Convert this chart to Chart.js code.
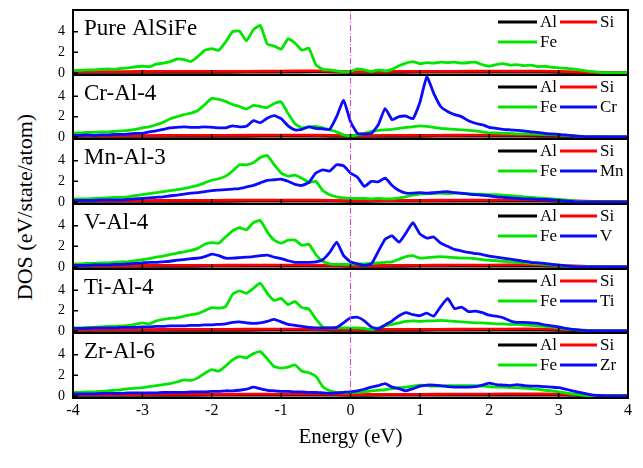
<!DOCTYPE html>
<html>
<head>
<meta charset="utf-8">
<script src="https://cdn.jsdelivr.net/npm/chart.js@4.4.0/dist/chart.umd.min.js"></script>
<style>
  body { margin: 0; background: #fff; }
  #wrap { position: relative; width: 643px; height: 468px; overflow: hidden; }
  #wrap canvas { position: absolute; left: 0; }
  #ylab { position: absolute; left: -125px; top: 195px; width: 300px; text-align: center;
          font: 22px "Liberation Serif"; line-height: 24px; transform: rotate(-90deg); color: #000; }
</style>
</head>
<body>
<div id="wrap">
  <div id="ylab">DOS (eV/state/atom)</div>
</div>
<script>
// energy grid (eV)
const energies = [
  -4.0,-3.9,-3.8,-3.7,-3.6,-3.5,-3.4,-3.3,-3.2,-3.1,
  -3.0,-2.9,-2.8,-2.7,-2.6,-2.5,-2.4,-2.3,-2.2,-2.1,
  -2.0,-1.9,-1.8,-1.7,-1.6,-1.5,-1.4,-1.3,-1.2,-1.1,
  -1.0,-0.9,-0.8,-0.7,-0.6,-0.5,-0.4,-0.3,-0.2,-0.1,
  0.0,0.1,0.2,0.3,0.4,0.5,0.6,0.7,0.8,0.9,
  1.0,1.1,1.2,1.3,1.4,1.5,1.6,1.7,1.8,1.9,
  2.0,2.1,2.2,2.3,2.4,2.5,2.6,2.7,2.8,2.9,
  3.0,3.1,3.2,3.3,3.4,3.5,3.6,3.7,3.8,3.9,
  4.0
];
const energiesCoarse = [-4,-3.5,-3,-2.5,-2,-1.5,-1,-0.5,0,0.5,1,1.5,2,2.5,3,3.5,4];

const xTicks = [-4,-3,-2,-1,0,1,2,3,4];
const yTicks = [0,2,4];
const fermiLevel = 0;

const panelNames = ['Pure AlSiFe','Cr-Al-4','Mn-Al-3','V-Al-4','Ti-Al-4','Zr-Al-6'];
const dopantNames = [null,'Cr','Mn','V','Ti','Zr'];

// Fe partial DOS
const fePure = [
  0.25,0.25,0.3,0.3,0.35,0.4,0.35,0.45,0.5,0.6,
  0.65,0.6,0.85,0.95,1.1,1.35,1.3,1.1,1.6,2.2,
  2.35,2.2,3.0,4.0,4.05,3.1,4.2,4.6,2.8,2.6,
  2.3,3.3,2.9,2.2,2.4,0.8,0.35,0.3,0.2,0.1,
  0.15,0.4,0.3,0.15,0.3,0.2,0.35,0.7,0.95,1.1,
  0.9,1.0,0.95,1.05,1.0,1.05,0.95,1.0,1.05,0.8,
  0.65,0.8,0.9,0.75,0.8,0.7,0.75,0.6,0.65,0.55,
  0.5,0.45,0.4,0.3,0.2,0.12,0.05,0.02,0,0,
  0
];
const feCr = [
  0.4,0.4,0.45,0.45,0.5,0.5,0.55,0.6,0.65,0.75,
  0.9,1.0,1.2,1.45,1.8,2.0,2.2,2.35,2.6,3.2,
  3.8,3.7,3.5,3.2,3.0,2.75,3.1,3.0,2.9,3.3,
  3.45,2.3,1.3,0.9,1.0,1.05,0.9,0.7,0.5,0.2,
  0.1,0.2,0.35,0.55,0.65,0.7,0.75,0.85,0.95,1.0,
  1.1,1.05,0.95,0.85,0.8,0.75,0.7,0.65,0.6,0.5,
  0.4,0.4,0.35,0.35,0.3,0.3,0.3,0.28,0.25,0.25,
  0.22,0.15,0.1,0.05,0.02,0,0,0,0,0,
  0
];
const feMn = [
  0.3,0.3,0.3,0.35,0.35,0.4,0.45,0.45,0.5,0.6,
  0.7,0.8,0.9,1.0,1.1,1.2,1.3,1.45,1.6,1.85,
  2.1,2.25,2.5,3.0,3.6,3.6,3.8,4.3,4.5,3.6,
  2.8,2.5,2.6,2.3,1.9,2.0,1.1,0.7,0.5,0.4,
  0.35,0.35,0.35,0.3,0.35,0.3,0.3,0.4,0.5,0.65,
  0.75,0.8,0.8,0.85,0.8,0.85,0.8,0.8,0.75,0.75,
  0.7,0.7,0.65,0.6,0.55,0.5,0.45,0.4,0.35,0.3,
  0.25,0.2,0.12,0.06,0.02,0,0,0,0,0,
  0
];
const feV = [
  0.3,0.3,0.35,0.35,0.4,0.4,0.45,0.5,0.5,0.6,
  0.7,0.8,0.95,1.05,1.2,1.35,1.45,1.6,1.8,2.2,
  2.35,2.3,2.9,3.5,3.8,3.6,4.3,4.5,3.4,2.6,
  2.3,2.6,2.6,2.1,2.2,1.2,0.55,0.3,0.25,0.25,
  0.25,0.3,0.3,0.35,0.4,0.45,0.5,0.75,1.0,1.1,
  0.85,0.9,0.95,1.0,0.95,0.9,0.85,0.85,0.8,0.7,
  0.65,0.6,0.55,0.5,0.45,0.4,0.35,0.3,0.25,0.2,
  0.15,0.08,0.03,0,0,0,0,0,0,0,
  0
];
const feTi = [
  0.3,0.3,0.35,0.35,0.4,0.45,0.45,0.5,0.55,0.65,
  0.8,0.7,1.0,1.15,1.25,1.3,1.45,1.6,1.7,2.0,
  2.3,2.25,2.4,3.6,3.95,3.7,4.2,4.7,3.7,3.0,
  3.2,2.6,2.9,2.3,2.15,1.2,0.4,0.3,0.3,0.3,
  0.3,0.3,0.25,0.15,0.3,0.5,0.65,0.8,0.95,1.0,
  0.95,1.0,1.0,1.05,1.0,0.95,0.9,0.85,0.8,0.8,
  0.75,0.7,0.7,0.65,0.65,0.6,0.55,0.5,0.45,0.4,
  0.3,0.2,0.15,0.08,0.03,0,0,0,0,0,
  0
];
const feZr = [
  0.35,0.35,0.4,0.4,0.45,0.5,0.55,0.6,0.7,0.75,
  0.8,0.9,1.0,1.1,1.2,1.35,1.55,1.5,1.75,2.2,
  2.55,2.4,2.9,3.5,3.8,3.7,4.1,4.3,3.6,2.85,
  2.7,2.8,3.0,2.4,2.25,1.9,0.9,0.5,0.35,0.3,
  0.3,0.35,0.4,0.5,0.55,0.6,0.7,0.8,0.85,0.95,
  1.05,1.0,0.95,0.95,1.0,1.0,1.0,1.0,1.0,0.95,
  0.9,0.85,0.85,0.8,0.8,0.75,0.7,0.65,0.55,0.5,
  0.4,0.3,0.2,0.1,0.03,0,0,0,0,0,
  0
];

// dopant partial DOS
const crDos = [
  0.15,0.15,0.2,0.15,0.2,0.2,0.25,0.25,0.3,0.35,
  0.35,0.5,0.6,0.75,0.9,0.95,1.0,0.95,0.95,1.0,
  0.95,0.9,0.9,1.1,1.0,1.05,1.6,1.4,1.85,2.1,
  1.8,1.1,0.7,0.75,1.0,0.85,0.8,0.75,2.0,3.6,
  1.5,0.35,0.3,0.35,1.2,2.8,1.7,2.0,2.05,1.8,
  3.4,5.9,4.3,3.0,2.5,2.2,2.0,1.6,1.35,1.2,
  0.95,0.85,0.75,0.7,0.65,0.6,0.5,0.45,0.35,0.3,
  0.25,0.2,0.12,0.05,0,0,0,0,0,0,
  0
];
const mnDos = [
  0.15,0.15,0.15,0.15,0.2,0.2,0.2,0.2,0.25,0.3,
  0.35,0.4,0.45,0.5,0.6,0.65,0.75,0.85,0.9,1.0,
  1.1,1.15,1.2,1.25,1.3,1.45,1.6,1.85,2.1,2.15,
  2.2,2.0,1.7,1.6,1.9,2.8,3.1,3.0,3.6,3.5,
  2.8,2.4,1.5,2.0,1.95,2.3,1.6,1.1,0.85,0.85,
  0.9,0.85,0.9,0.95,1.0,0.9,0.85,0.75,0.7,0.65,
  0.6,0.5,0.45,0.4,0.35,0.3,0.3,0.25,0.25,0.2,
  0.15,0.1,0.05,0,0,0,0,0,0,0,
  0
];
const vDos = [
  0.15,0.15,0.15,0.2,0.2,0.2,0.25,0.25,0.3,0.35,
  0.4,0.45,0.45,0.5,0.55,0.65,0.7,0.8,0.85,1.0,
  1.25,1.1,0.85,0.85,0.9,0.95,1.0,1.1,1.15,0.95,
  0.8,0.6,0.45,0.45,0.45,0.5,0.7,1.4,2.4,1.1,
  0.5,0.3,0.15,0.3,1.5,2.7,3.0,2.4,3.3,4.3,
  3.2,2.8,2.9,2.3,2.0,1.7,1.55,1.4,1.3,1.2,
  1.05,0.95,0.85,0.75,0.65,0.55,0.45,0.4,0.35,0.25,
  0.2,0.1,0.05,0,0,0,0,0,0,0,
  0
];
const tiDos = [
  0.25,0.25,0.25,0.3,0.3,0.3,0.3,0.35,0.35,0.35,
  0.4,0.4,0.45,0.45,0.5,0.5,0.5,0.55,0.55,0.6,
  0.6,0.65,0.7,0.85,0.9,0.8,0.75,0.8,0.95,1.15,
  0.9,0.65,0.55,0.45,0.35,0.3,0.3,0.3,0.35,0.8,
  1.3,1.35,1.0,0.4,0.2,0.6,1.0,1.5,1.8,1.6,
  1.5,1.75,1.45,2.4,3.2,2.2,2.35,1.9,1.95,1.8,
  1.55,1.45,1.3,1.0,0.85,0.85,0.8,0.75,0.6,0.5,
  0.4,0.25,0.15,0.08,0.03,0,0,0,0,0,
  0
];
const zrDos = [
  0.2,0.2,0.2,0.2,0.25,0.25,0.25,0.25,0.3,0.3,
  0.3,0.3,0.3,0.35,0.35,0.35,0.35,0.4,0.4,0.4,
  0.45,0.45,0.5,0.5,0.55,0.65,0.85,0.7,0.55,0.5,
  0.45,0.45,0.4,0.4,0.35,0.35,0.3,0.25,0.3,0.35,
  0.4,0.5,0.65,0.85,1.0,1.2,0.85,0.7,0.5,0.7,
  0.95,1.05,1.05,1.0,0.9,0.85,0.85,0.85,0.9,1.05,
  1.25,1.1,1.05,1.0,1.1,1.0,0.95,0.95,0.9,0.85,
  0.8,0.65,0.5,0.35,0.2,0.08,0.02,0,0,0,
  0
];

// Al and Si partial DOS (coarse grid, small)
const alPure = [0.05,0.05,0.05,0.06,0.06,0.07,0.08,0.1,0.06,0.06,0.07,0.07,0.08,0.08,0.06,0.02,0];
const siPure = [0.12,0.12,0.14,0.15,0.15,0.16,0.18,0.2,0.12,0.14,0.15,0.16,0.18,0.18,0.15,0.03,0];
const alCr = [0.05,0.05,0.06,0.06,0.07,0.07,0.08,0.08,0.06,0.07,0.07,0.08,0.08,0.08,0.06,0.02,0];
const siCr = [0.12,0.13,0.14,0.15,0.16,0.17,0.18,0.17,0.13,0.15,0.16,0.17,0.18,0.19,0.15,0.03,0];
const alMn = [0.05,0.05,0.06,0.06,0.06,0.07,0.08,0.08,0.06,0.07,0.07,0.08,0.08,0.08,0.06,0.02,0];
const siMn = [0.12,0.12,0.13,0.15,0.16,0.17,0.18,0.18,0.13,0.14,0.16,0.17,0.18,0.2,0.16,0.04,0];
const alV = [0.05,0.05,0.05,0.06,0.07,0.07,0.08,0.08,0.06,0.06,0.07,0.08,0.08,0.08,0.06,0.02,0];
const siV = [0.12,0.12,0.14,0.15,0.16,0.17,0.18,0.18,0.12,0.14,0.16,0.17,0.18,0.2,0.16,0.03,0];
const alTi = [0.05,0.05,0.06,0.06,0.07,0.07,0.08,0.08,0.06,0.07,0.07,0.08,0.08,0.08,0.07,0.02,0];
const siTi = [0.12,0.13,0.14,0.15,0.16,0.17,0.18,0.17,0.13,0.15,0.16,0.17,0.18,0.2,0.17,0.04,0];
const alZr = [0.05,0.05,0.06,0.06,0.07,0.07,0.08,0.08,0.06,0.07,0.07,0.08,0.08,0.08,0.07,0.02,0];
const siZr = [0.12,0.13,0.14,0.15,0.16,0.17,0.18,0.18,0.13,0.15,0.16,0.17,0.18,0.2,0.17,0.04,0];

const feSeries = [fePure, feCr, feMn, feV, feTi, feZr];
const dopSeries = [null, crDos, mnDos, vDos, tiDos, zrDos];
const alSeries = [alPure, alCr, alMn, alV, alTi, alZr];
const siSeries = [siPure, siCr, siMn, siV, siTi, siZr];

// layout
const plotLeft = 73, plotRight = 628, pad = 6;
const panelTops = [10, 75, 139, 204, 269, 333];
const panelBottom = 398;
const yMin = -0.2, yMax = 6.1;
const font = 'Liberation Serif';

function pts(xs, ys) {
  return xs.map((x, k) => ({ x: x, y: ys[k] }));
}

function makeDecor(title) {
  return {
    id: 'panelDecor',
    afterDraw(chart) {
      const { ctx, chartArea: a, scales } = chart;
      ctx.save();
      ctx.strokeStyle = '#000';
      ctx.lineWidth = 1.5;
      ctx.beginPath();
      xTicks.forEach(v => {
        if (v > -4 && v < 4) {
          const px = scales.x.getPixelForValue(v);
          ctx.moveTo(px, a.bottom);
          ctx.lineTo(px, a.bottom - 5);
        }
      });
      yTicks.forEach(v => {
        const py = scales.y.getPixelForValue(v);
        ctx.moveTo(a.left, py);
        ctx.lineTo(a.left + 5, py);
      });
      ctx.stroke();
      ctx.lineWidth = 2;
      ctx.strokeRect(a.left, a.top, a.right - a.left, a.bottom - a.top);

      ctx.fillStyle = '#000';
      ctx.font = '23px "' + font + '"';
      ctx.textBaseline = 'alphabetic';
      ctx.fillText(title, 84, a.top + 25);

      // legend, two columns
      ctx.font = '17px "' + font + '"';
      ctx.textBaseline = 'middle';
      const items = chart.data.datasets.filter(d => d.inLegend);
      items.forEach((d, k) => {
        const col = k % 2, row = Math.floor(k / 2);
        const x0 = col ? 560 : 498, x1 = col ? 597 : 537;
        const yy = a.top + 12 + row * 20;
        ctx.strokeStyle = d.borderColor;
        ctx.lineWidth = 3;
        ctx.beginPath();
        ctx.moveTo(x0, yy);
        ctx.lineTo(x1, yy);
        ctx.stroke();
        ctx.fillText(d.label, x1 + 3, yy + 1);
      });
      ctx.restore();
    }
  };
}

const wrap = document.getElementById('wrap');

panelNames.forEach((name, i) => {
  const last = i === panelNames.length - 1;
  const top = panelTops[i];
  const bottom = last ? panelBottom : panelTops[i + 1];
  const canvasTop = top - pad;
  const height = last ? 468 - canvasTop : (bottom - top) + 2 * pad;

  const canvas = document.createElement('canvas');
  canvas.width = 643;
  canvas.height = height;
  canvas.style.top = canvasTop + 'px';
  wrap.appendChild(canvas);

  const datasets = [
    { label: 'Al', data: pts(energiesCoarse, alSeries[i]), borderColor: '#000000', order: 4, inLegend: true },
    { label: 'Si', data: pts(energiesCoarse, siSeries[i]), borderColor: '#ff0000', order: 3, inLegend: true },
    { label: 'Fe', data: pts(energies, feSeries[i]), borderColor: '#00e600', order: 2, inLegend: true }
  ];
  if (dopSeries[i]) {
    datasets.push({ label: dopantNames[i], data: pts(energies, dopSeries[i]), borderColor: '#0a0aff', order: 1, inLegend: true });
  }
  datasets.push({
    label: 'EF',
    data: [{ x: fermiLevel, y: yMin }, { x: fermiLevel, y: yMax }],
    borderColor: '#e03ce0', borderWidth: 1, borderDash: [6, 2, 1, 2], order: 0, inLegend: false
  });

  new Chart(canvas, {
    type: 'line',
    data: { datasets: datasets },
    options: {
      responsive: false,
      animation: false,
      layout: {
        padding: { top: pad, bottom: last ? 0 : pad, left: 0, right: 643 - plotRight }
      },
      plugins: { legend: { display: false }, tooltip: { enabled: false } },
      elements: {
        point: { radius: 0 },
        line: { borderWidth: 2.8, tension: 0.15 }
      },
      scales: {
        x: {
          type: 'linear', min: -4, max: 4, display: last,
          afterBuildTicks: s => { s.ticks = xTicks.map(v => ({ value: v })); },
          ticks: { color: '#000', font: { family: font, size: 16 }, padding: 3 },
          grid: { display: false, drawTicks: false },
          border: { display: false },
          title: {
            display: true, text: 'Energy (eV)', color: '#000',
            font: { family: font, size: 21 }, padding: { top: 0, bottom: 18 }
          },
          afterFit: s => {
            s.height = last ? 70 : 0;
            s.paddingLeft = 0; s.paddingRight = 0;
          }
        },
        y: {
          min: yMin, max: yMax,
          afterBuildTicks: s => { s.ticks = yTicks.map(v => ({ value: v })); },
          ticks: { color: '#000', font: { family: font, size: 14 }, padding: 8 },
          grid: { display: false, drawTicks: false },
          border: { display: false },
          afterFit: s => {
            s.width = plotLeft;
            s.paddingTop = 0; s.paddingBottom = 0;
          }
        }
      }
    },
    plugins: [makeDecor(name)]
  });
});
</script>
</body>
</html>
